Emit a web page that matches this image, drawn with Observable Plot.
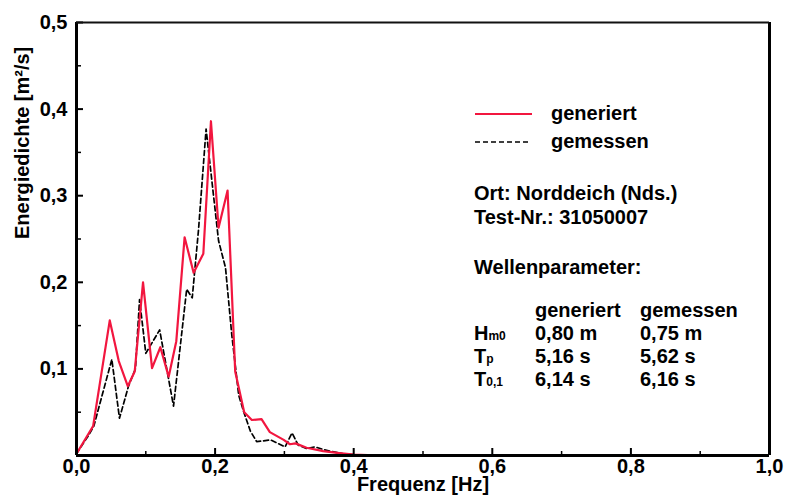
<!DOCTYPE html>
<html>
<head>
<meta charset="utf-8">
<script src="https://cdn.jsdelivr.net/npm/d3@7"></script>
<script src="https://cdn.jsdelivr.net/npm/@observablehq/plot@0.6"></script>
<style>
  html, body { margin: 0; padding: 0; background: #fff; }
  #chart { position: relative; width: 789px; height: 500px; }
  svg { font-family: "Liberation Sans", Arial, sans-serif; font-weight: bold; }
</style>
</head>
<body>
<div id="chart"></div>
<script>
// Frequency (Hz) and energy density (m²/s) – generated spectrum
const fGen = [0, 0.024, 0.048, 0.061, 0.074, 0.084, 0.096, 0.109, 0.121, 0.133, 0.144, 0.156, 0.169, 0.183, 0.194, 0.205, 0.218, 0.229, 0.242, 0.253, 0.267, 0.279, 0.299, 0.308, 0.316, 0.332, 0.356, 0.376, 0.400, 0.440];
const eGen = [0.002, 0.034, 0.156, 0.109, 0.080, 0.097, 0.200, 0.101, 0.125, 0.091, 0.132, 0.252, 0.211, 0.233, 0.386, 0.263, 0.306, 0.097, 0.050, 0.041, 0.042, 0.027, 0.018, 0.013, 0.014, 0.009, 0.005, 0.003, 0.001, 0.000];
// measured spectrum
const fMes = [0, 0.018, 0.025, 0.051, 0.062, 0.075, 0.085, 0.091, 0.100, 0.120, 0.140, 0.159, 0.167, 0.176, 0.187, 0.205, 0.215, 0.224, 0.234, 0.241, 0.251, 0.260, 0.280, 0.301, 0.311, 0.320, 0.332, 0.344, 0.356, 0.366, 0.385, 0.400];
const eMes = [0.002, 0.024, 0.034, 0.111, 0.043, 0.080, 0.100, 0.180, 0.118, 0.145, 0.057, 0.192, 0.182, 0.260, 0.377, 0.248, 0.217, 0.140, 0.070, 0.051, 0.028, 0.016, 0.018, 0.010, 0.026, 0.012, 0.008, 0.010, 0.007, 0.005, 0.002, 0.001];

const xTicks = [0, 0.2, 0.4, 0.6, 0.8, 1.0];
const xTickLabels = ["0,0", "0,2", "0,4", "0,6", "0,8", "1,0"];
const xMinor = [0.1, 0.3, 0.5, 0.7, 0.9];
const yTicks = [0.1, 0.2, 0.3, 0.4, 0.5];
const yTickLabels = ["0,1", "0,2", "0,3", "0,4", "0,5"];
const yMinor = [0.05, 0.15, 0.25, 0.35, 0.45];

const seriesNames = ["generiert", "gemessen"];
const infoLines = ["Ort: Norddeich (Nds.)", "Test-Nr.: 31050007", "Wellenparameter:"];
const paramNames = [["H", "m0"], ["T", "p"], ["T", "0,1"]];
const genValues = ["0,80 m", "5,16 s", "6,14 s"];
const mesValues = ["0,75 m", "5,62 s", "6,16 s"];

const gen = fGen.map((f, i) => ({f, e: eGen[i]}));
const mes = fMes.map((f, i) => ({f, e: eMes[i]}));

const RED = "#f2163f";

const plot = Plot.plot({
  width: 789,
  height: 500,
  marginLeft: 76,
  marginRight: 20,
  marginTop: 22,
  marginBottom: 45,
  x: {domain: [0, 1]},
  y: {domain: [0, 0.5]},
  style: {fontFamily: "'Liberation Sans', Arial, sans-serif", fontSize: "20px", fontWeight: "bold", color: "#000", background: "#fff"},
  marks: [
    Plot.line(mes, {x: "f", y: "e", stroke: "#000", strokeWidth: 1.7, strokeDasharray: "5,3"}),
    Plot.line(gen, {x: "f", y: "e", stroke: RED, strokeWidth: 2.2}),
    Plot.axisX({ticks: xTicks, tickSize: -7, tickPadding: 10, tickFormat: (d, i) => xTickLabels[i], label: null, fontSize: 20, fontWeight: "bold", strokeWidth: 2}),
    Plot.axisX({ticks: xMinor, tickSize: -4, tickFormat: () => "", label: null, strokeWidth: 1.5}),
    Plot.axisY({ticks: yTicks, tickSize: -7, tickPadding: 16, tickFormat: (d, i) => yTickLabels[i], label: null, fontSize: 20, fontWeight: "bold", strokeWidth: 2}),
    Plot.axisY({ticks: yMinor, tickSize: -5, tickFormat: () => "", label: null, strokeWidth: 1.5}),
    Plot.ruleX([0, 1], {stroke: "#000", strokeWidth: 3}),
    Plot.ruleY([0], {stroke: "#000", strokeWidth: 3}),
    Plot.ruleY([0.5], {stroke: "#111", strokeWidth: 2}),
    Plot.text(["Frequenz [Hz]"], {frameAnchor: "bottom", dy: 35, fontSize: 20, fontWeight: "bold"}),
    Plot.text(["Energiedichte [m²/s]"], {frameAnchor: "left", rotate: -90, dx: -54, fontSize: 20, fontWeight: "bold"})
  ]
});
document.getElementById("chart").appendChild(plot);

// annotation block (legend + parameters)
const svg = d3.select(plot);
const g = svg.append("g").attr("font-size", 20).attr("font-weight", "bold").attr("fill", "#000").attr("text-anchor", "start");
const lx = 474;
// legend
g.append("line").attr("x1", 475).attr("x2", 532).attr("y1", 114).attr("y2", 114).attr("stroke", RED).attr("stroke-width", 2);
g.append("line").attr("x1", 475).attr("x2", 530).attr("y1", 142).attr("y2", 142).attr("stroke", "#000").attr("stroke-width", 1.7).attr("stroke-dasharray", "5,3");
g.append("text").attr("x", 551).attr("y", 120).text(seriesNames[0]);
g.append("text").attr("x", 551).attr("y", 148).text(seriesNames[1]);
// info
const infoY = [200, 224, 274];
infoLines.forEach((t, i) => g.append("text").attr("x", lx).attr("y", infoY[i]).text(t));
// table header
g.append("text").attr("x", 535).attr("y", 317).text(seriesNames[0]);
g.append("text").attr("x", 640).attr("y", 317).text(seriesNames[1]);
const rowY = [340, 363, 386];
paramNames.forEach(([m, s], i) => {
  const t = g.append("text").attr("x", lx).attr("y", rowY[i]);
  t.append("tspan").text(m);
  t.append("tspan").attr("font-size", 12).text(s);
  g.append("text").attr("x", 535).attr("y", rowY[i]).text(genValues[i]);
  g.append("text").attr("x", 640).attr("y", rowY[i]).text(mesValues[i]);
});
</script>
</body>
</html>
